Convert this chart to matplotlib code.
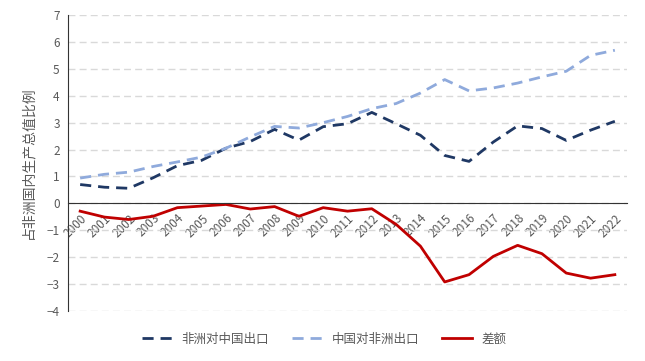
import matplotlib
matplotlib.use("Agg")
import matplotlib.pyplot as plt

plt.rcParams['font.family'] = ['Noto Sans CJK SC', 'DejaVu Sans']

years = [str(y) for y in range(2000, 2023)]
africa_to_china = [0.70, 0.60, 0.56, 0.95, 1.40, 1.60, 2.05, 2.30, 2.75, 2.35,
                   2.85, 2.96, 3.38, 2.96, 2.53, 1.78, 1.56, 2.28, 2.88, 2.78,
                   2.34, 2.72, 3.05]
china_to_africa = [0.94, 1.08, 1.16, 1.37, 1.54, 1.72, 2.05, 2.47, 2.86, 2.80,
                   3.00, 3.23, 3.52, 3.71, 4.10, 4.60, 4.18, 4.29, 4.47, 4.70,
                   4.91, 5.50, 5.69]
difference = [-0.29, -0.51, -0.60, -0.48, -0.16, -0.10, -0.04, -0.21, -0.12, -0.48,
              -0.16, -0.29, -0.20, -0.78, -1.59, -2.92, -2.65, -1.97, -1.56, -1.87,
              -2.59, -2.78, -2.65]
yticks = list(range(-4, 8))

grey = "#595959"

fig = plt.figure(figsize=(6.45, 3.61), dpi=100)
ax = fig.add_axes([68 / 645, 1 - 311 / 361, 559 / 645, 296 / 361])

x = range(len(years))
ax.plot(x, africa_to_china, color="#1F3864", lw=2.0, ls=(0, (4, 2.5)), label="非洲对中国出口")
ax.plot(x, china_to_africa, color="#8FAADC", lw=2.0, ls=(0, (4, 2.5)), label="中国对非洲出口")
ax.plot(x, difference, color="#C00000", lw=2.0, label="差额")

ax.set_xlim(-0.5, len(years) - 0.5)
ax.set_ylim(-4, 7)
ax.set_yticks(yticks)
ax.grid(axis="y", color="#D9D9D9", ls=(0, (5, 3)), lw=1.0)
ax.set_axisbelow(True)

for s in ["top", "right"]:
    ax.spines[s].set_visible(False)
ax.spines["left"].set_color("#333333")
ax.spines["bottom"].set_position(("data", 0))
ax.spines["bottom"].set_color("#333333")

ax.set_xticks(list(x))
ax.set_xticklabels(years, rotation=45, ha="right", va="top", rotation_mode="anchor",
                   fontsize=8.5, color=grey)
ax.tick_params(axis="x", length=0, pad=6)
ax.tick_params(axis="y", length=0, labelsize=8.5, labelcolor=grey, pad=6)

ax.set_ylabel("占非洲国内生产总值比例", fontsize=10, color=grey, labelpad=8)

fig.legend(loc="center", bbox_to_anchor=(324 / 645, 1 - 339 / 361), ncol=3,
           frameon=False, fontsize=9, labelcolor=grey, handlelength=2.4,
           handletextpad=0.8, columnspacing=1.8)

fig.savefig("out.png", dpi=100)
